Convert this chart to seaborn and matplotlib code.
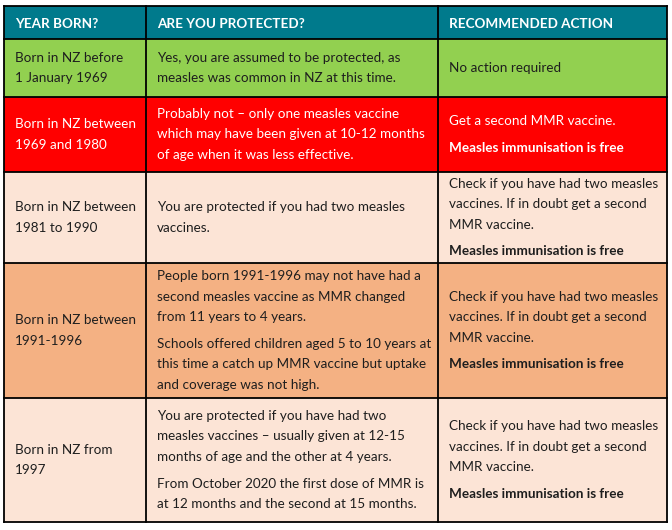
import matplotlib
matplotlib.use("Agg")
import matplotlib.pyplot as plt
from matplotlib.patches import Rectangle
import seaborn as sns

sns.set_theme(style="white")
plt.rcParams["font.family"] = ["Lato", "DejaVu Sans"]

# table content
headers = ["YEAR BORN?", "ARE YOU PROTECTED?", "RECOMMENDED ACTION"]

year_born = [
    "Born in NZ before\n1 January 1969",
    "Born in NZ between\n1969 and 1980",
    "Born in NZ between\n1981 to 1990",
    "Born in NZ between\n1991-1996",
    "Born in NZ from\n1997",
]

# each cell is a list of paragraphs
protected = [
    ["Yes, you are assumed to be protected, as\nmeasles was common in NZ at this time."],
    ["Probably not \u2013 only one measles vaccine\nwhich may have been given at 10-12 months\nof age when it was less effective."],
    ["You are protected if you had two measles\nvaccines."],
    ["People born 1991-1996 may not have had a\nsecond measles vaccine as MMR changed\nfrom 11 years to 4 years.",
     "Schools offered children aged 5 to 10 years at\nthis time a catch up MMR vaccine but uptake\nand coverage was not high."],
    ["You are protected if you have had two\nmeasles vaccines \u2013 usually given at 12-15\nmonths of age and the other at 4 years.",
     "From October 2020 the first dose of MMR is\nat 12 months and the second at 15 months."],
]

check_text = "Check if you have had two measles\nvaccines. If in doubt get a second\nMMR vaccine."
free_text = "Measles immunisation is free"
action = [
    ["No action required"],
    ["Get a second MMR vaccine.", free_text],
    [check_text, free_text],
    [check_text, free_text],
    [check_text, free_text],
]
bold_paragraphs = {free_text}

row_colors = ["#92D050", "#FF0000", "#FCE4D6", "#F4B183", "#FCE4D6"]
text_colors = ["#1e1e1e", "white", "#1e1e1e", "#1e1e1e", "#1e1e1e"]
header_color = "#007A8C"

# layout in pixels
col_edges = [4, 146, 438, 667]
row_edges = [6, 39, 97, 172, 263, 398, 522]
pad_x = 11
line_h = 20.5
para_gap = 6
fs = 9.7


def draw_cell(ax, x0, y0, y1, paragraphs, color):
    lines = []
    y = 0
    for i, para in enumerate(paragraphs):
        if i > 0:
            y += para_gap
        for ln in para.split("\n"):
            lines.append((y, ln, para in bold_paragraphs))
            y += line_h
    total = y - line_h
    start = (y0 + y1) / 2 - total / 2
    for off, ln, bold in lines:
        ax.text(x0 + pad_x, start + off, ln, fontsize=fs, color=color,
                fontweight="bold" if bold else "normal", va="center", ha="left")


fig = plt.figure(figsize=(6.72, 5.30), dpi=100)
ax = fig.add_axes([0, 0, 1, 1])
ax.set_xlim(0, 672)
ax.set_ylim(530, 0)
ax.axis("off")

# header
ax.add_patch(Rectangle((col_edges[0], row_edges[0]), col_edges[-1] - col_edges[0],
                       row_edges[1] - row_edges[0], facecolor=header_color, edgecolor="none"))
for j, h in enumerate(headers):
    ax.text(col_edges[j] + pad_x, (row_edges[0] + row_edges[1]) / 2 + 1.5, h, fontsize=fs,
            fontweight="bold", color="white", va="center", ha="left")

# body rows
for i in range(len(year_born)):
    y0, y1 = row_edges[i + 1], row_edges[i + 2]
    ax.add_patch(Rectangle((col_edges[0], y0), col_edges[-1] - col_edges[0], y1 - y0,
                           facecolor=row_colors[i], edgecolor="none"))
    draw_cell(ax, col_edges[0], y0, y1, [year_born[i]], text_colors[i])
    draw_cell(ax, col_edges[1], y0, y1, protected[i], text_colors[i])
    draw_cell(ax, col_edges[2], y0, y1, action[i], text_colors[i])

# grid lines
for x in col_edges:
    ax.plot([x, x], [row_edges[0], row_edges[-1]], color="black", lw=1.3, solid_capstyle="projecting")
for y in row_edges:
    ax.plot([col_edges[0], col_edges[-1]], [y, y], color="black", lw=1.3, solid_capstyle="projecting")

fig.savefig("out.png", dpi=100, facecolor="white")
